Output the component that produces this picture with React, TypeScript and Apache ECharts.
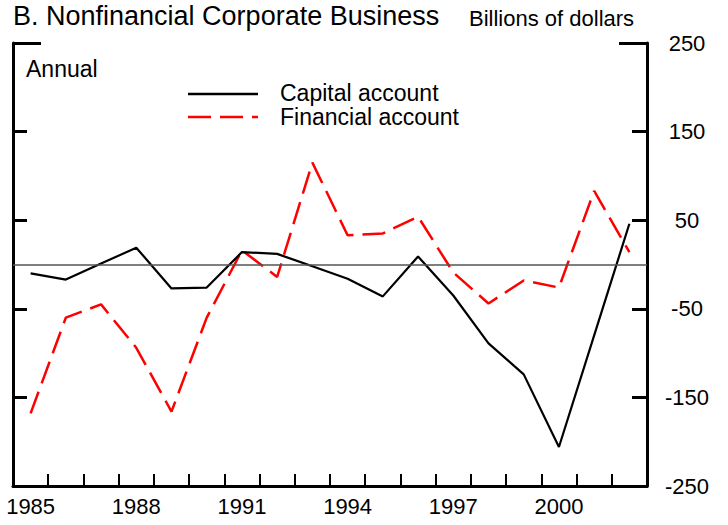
import React, { useEffect, useRef } from 'react';
import * as echarts from 'echarts';

const years = ['1985', '1986', '1987', '1988', '1989', '1990', '1991', '1992', '1993', '1994', '1995', '1996', '1997', '1998', '1999', '2000', '2001', '2002'];
const capitalAccount = [-10, -17, 1, 19, -27, -26, 14, 12, -2, -16, -36, 9, -35, -89, -124, -206, -80, 46];
const financialAccount = [-168, -60, -45, -94, -166, -60, 16, -14, 115, 33, 35, 54, -9, -44, -18, -26, 83, 14];
const yMin = -250;
const yMax = 250;
const yInterval = 100;
const seriesNames = ['Capital account', 'Financial account'];
const seriesColors = ['#000000', '#ff0000'];
const titleText = 'B. Nonfinancial Corporate Business';
const unitText = 'Billions of dollars';
const freqText = 'Annual';

const FONT = '"Liberation Sans", Arial, sans-serif';

export default function App() {
  const ref = useRef<HTMLDivElement>(null);
  useEffect(() => {
    if (!ref.current) return;
    const chart = echarts.init(ref.current, null, { renderer: 'svg' });
    const baseY = {
      type: 'value' as const,
      min: yMin,
      max: yMax,
      interval: yInterval,
      splitLine: { show: false },
    };
    chart.setOption({
      animation: false,
      backgroundColor: '#fff',
      textStyle: { fontFamily: FONT, color: '#000' },
      grid: { left: 13, right: 81, top: 43, bottom: 39, containLabel: false },
      graphic: [
        { type: 'text', left: 13, top: 2, style: { text: titleText, font: `27px ${FONT}`, fill: '#000' } },
        { type: 'text', left: 469, top: 7, style: { text: unitText, font: `22px ${FONT}`, fill: '#000' } },
        { type: 'text', left: 26, top: 57, style: { text: freqText, font: `23px ${FONT}`, fill: '#000' } },
        { type: 'line', shape: { x1: 188, y1: 94, x2: 258, y2: 94 }, style: { stroke: seriesColors[0], lineWidth: 2.5 } },
        { type: 'line', shape: { x1: 188, y1: 117, x2: 258, y2: 117 }, style: { stroke: seriesColors[1], lineWidth: 2.5, lineDash: [23, 9] } },
        { type: 'text', x: 280, y: 93, style: { text: seriesNames[0], font: `23px ${FONT}`, fill: '#000', verticalAlign: 'middle' } },
        { type: 'text', x: 280, y: 117, style: { text: seriesNames[1], font: `23px ${FONT}`, fill: '#000', verticalAlign: 'middle' } },
      ],
      xAxis: {
        type: 'category',
        data: years,
        boundaryGap: true,
        axisLine: { show: true, onZero: false, lineStyle: { color: '#000', width: 3 } },
        axisTick: { show: true, inside: true, length: 12, interval: 0, lineStyle: { color: '#000', width: 2 } },
        axisLabel: { interval: 2, fontSize: 22, fontFamily: FONT, color: '#000', margin: 9 },
        splitLine: { show: false },
      },
      yAxis: [
        {
          ...baseY,
          position: 'right',
          axisLine: { show: true, lineStyle: { color: '#000', width: 3 } },
          axisTick: { show: true, inside: true, length: 15, lineStyle: { color: '#000', width: 3 } },
          axisLabel: { show: true, fontSize: 22, fontFamily: FONT, color: '#000', align: 'center', margin: 40 },
        },
        {
          ...baseY,
          position: 'left',
          axisLine: { show: true, lineStyle: { color: '#000', width: 3 } },
          axisTick: { show: true, inside: true, length: 14, lineStyle: { color: '#000', width: 3 } },
          axisLabel: { show: false },
        },
        {
          ...baseY,
          interval: yMax - yMin,
          position: 'right',
          axisLine: { show: false },
          axisTick: { show: true, inside: true, length: 28, lineStyle: { color: '#000', width: 3 } },
          axisLabel: { show: false },
        },
        {
          ...baseY,
          interval: yMax - yMin,
          position: 'left',
          axisLine: { show: false },
          axisTick: { show: true, inside: true, length: 28, lineStyle: { color: '#000', width: 3 } },
          axisLabel: { show: false },
        },
      ],
      series: [
        {
          name: seriesNames[0],
          type: 'line',
          yAxisIndex: 0,
          data: capitalAccount,
          symbol: 'none',
          color: seriesColors[0],
          lineStyle: { color: seriesColors[0], width: 2.2 },
          markLine: {
            silent: true,
            symbol: 'none',
            label: { show: false },
            lineStyle: { color: '#555', width: 1.5, type: 'solid' },
            data: [{ yAxis: 0 }],
          },
          z: 3,
        },
        {
          name: seriesNames[1],
          type: 'line',
          yAxisIndex: 0,
          data: financialAccount,
          symbol: 'none',
          color: seriesColors[1],
          lineStyle: { color: seriesColors[1], width: 2.5, type: [23, 9] },
          z: 2,
        },
      ],
    });
    return () => chart.dispose();
  }, []);
  return <div ref={ref} style={{ position: 'fixed', left: 0, top: 0, width: 728, height: 525 }} />;
}
